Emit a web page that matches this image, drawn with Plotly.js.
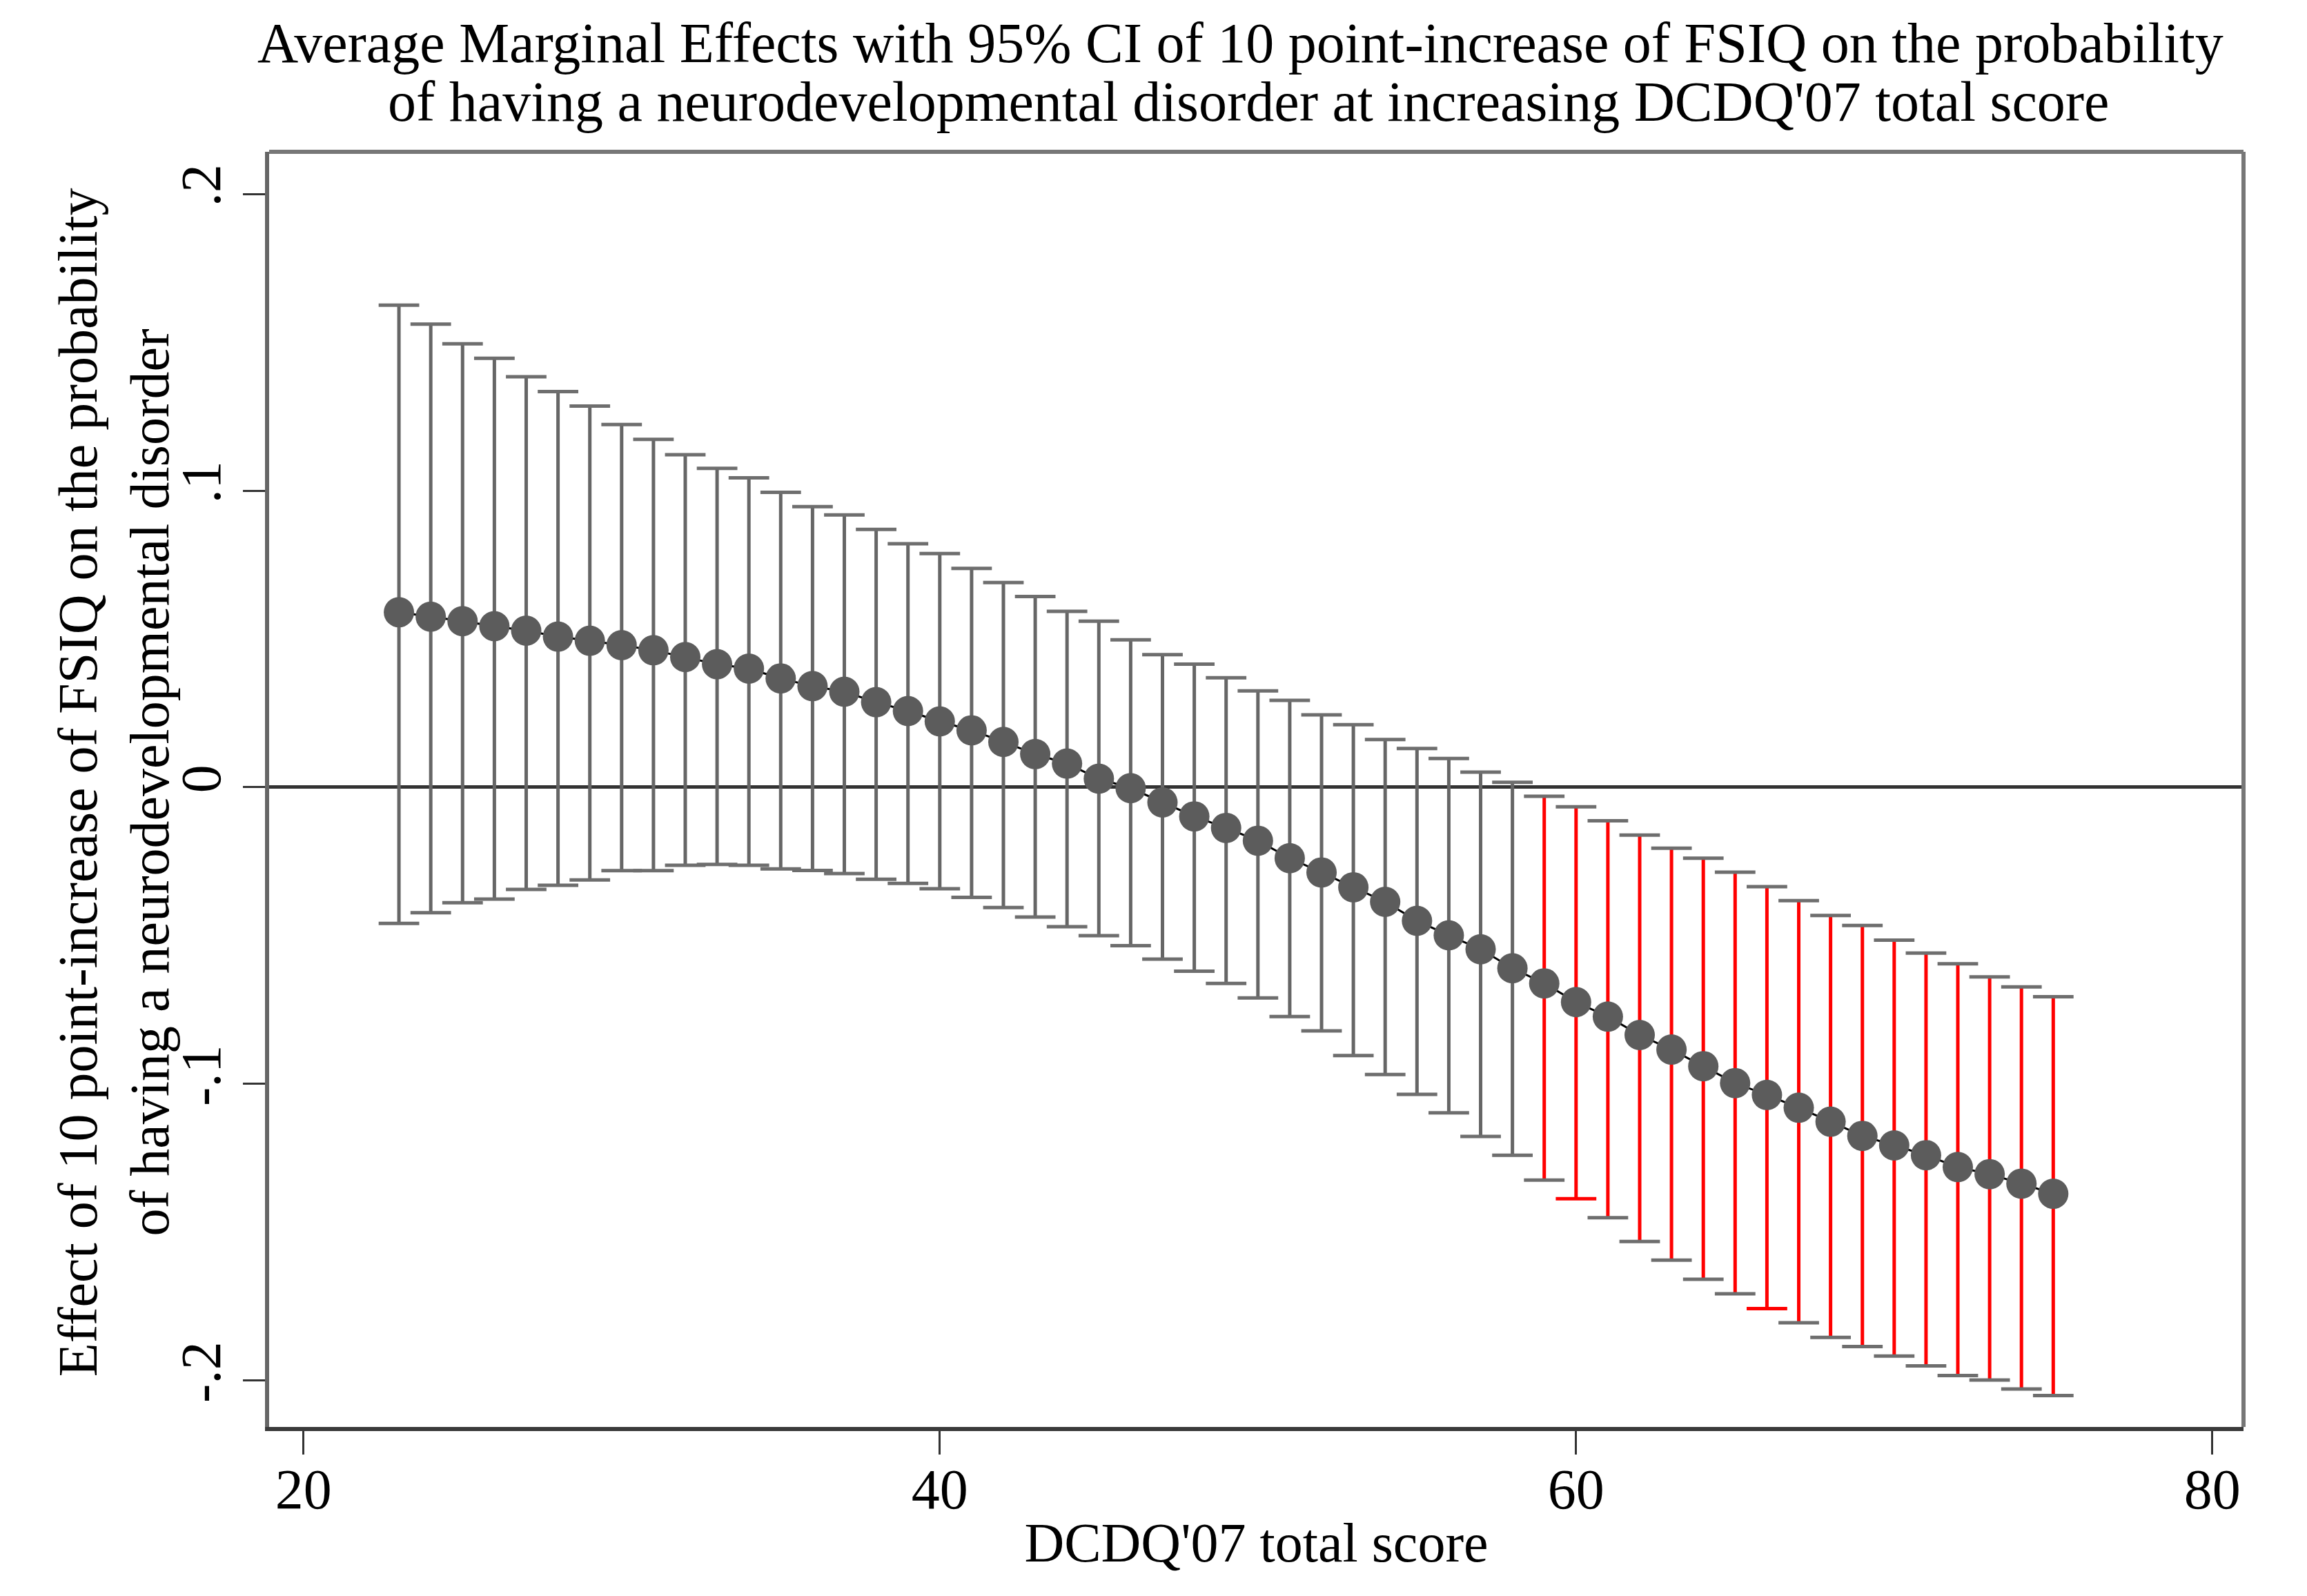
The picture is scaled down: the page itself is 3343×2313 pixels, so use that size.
<!DOCTYPE html>
<html>
<head>
<meta charset="utf-8">
<script src="https://cdn.plot.ly/plotly-3.0.1.min.js"></script>
<style>html,body{margin:0;padding:0;background:#fff;}#chart{width:3343px;height:2313px;}</style>
</head>
<body>
<div id="chart"></div>
<script>
// DCDQ'07 total score values
const dcdq = [23,24,25,26,27,28,29,30,31,32,33,34,35,36,37,38,39,40,41,42,43,44,45,46,47,48,49,
  50,51,52,53,54,55,56,57,58,59,60,61,62,63,64,65,66,67,68,69,70,71,72,73,74,75];
// Average marginal effect (point estimate)
const ame = [0.0590,0.0575,0.0560,0.0543,0.0528,0.0508,0.0494,0.0479,0.0462,0.0439,0.0415,0.0400,0.0367,0.0341,
  0.0322,0.0287,0.0257,0.0222,0.0192,0.0153,0.0112,0.0080,0.0029,-0.0003,-0.0051,-0.0098,-0.0137,
  -0.0180,-0.0239,-0.0287,-0.0337,-0.0386,-0.0450,-0.0499,-0.0546,-0.0610,-0.0661,-0.0724,-0.0773,-0.0835,
  -0.0884,-0.0940,-0.0997,-0.1037,-0.1080,-0.1127,-0.1175,-0.1207,-0.1240,-0.1280,-0.1304,-0.1336,-0.1370];
// Upper 95% CI
const ciUpper = [0.1625,0.1561,0.1495,0.1446,0.1384,0.1334,0.1285,0.1223,0.1173,0.1121,0.1075,0.1043,0.0994,0.0946,
  0.0918,0.0869,0.0821,0.0788,0.0738,0.0690,0.0643,0.0593,0.0560,0.0497,0.0447,0.0415,0.0369,
  0.0325,0.0293,0.0244,0.0211,0.0161,0.0131,0.0097,0.0051,0.0017,-0.0030,-0.0066,-0.0113,-0.0161,
  -0.0205,-0.0239,-0.0286,-0.0335,-0.0382,-0.0432,-0.0466,-0.0515,-0.0559,-0.0595,-0.0639,-0.0673,-0.0706];
// Lower 95% CI
const ciLower = [-0.0459,-0.0423,-0.0389,-0.0377,-0.0344,-0.0330,-0.0312,-0.0281,-0.0281,-0.0263,-0.0260,-0.0263,-0.0275,-0.0280,
  -0.0291,-0.0310,-0.0324,-0.0342,-0.0371,-0.0405,-0.0437,-0.0470,-0.0500,-0.0534,-0.0579,-0.0620,-0.0661,
  -0.0710,-0.0773,-0.0821,-0.0904,-0.0968,-0.1035,-0.1097,-0.1177,-0.1240,-0.1324,-0.1387,-0.1451,-0.1531,
  -0.1594,-0.1658,-0.1707,-0.1757,-0.1805,-0.1854,-0.1885,-0.1917,-0.1950,-0.1983,-0.1998,-0.2028,-0.2050];
// lower caps that appear drawn in red in the original
const redLowerCaps = [60, 66];
// tick labels
const xTickVals = [20,40,60,80];
const xTickText = ['20','40','60','80'];
const yTickVals = [0.2,0.1,0,-0.1,-0.2];
const yTickText = ['.2','.1','0','-.1','-.2'];
// texts
const titleLines = ["Average Marginal Effects with 95% CI of 10 point-increase of FSIQ on the probability",
                    "of having a neurodevelopmental disorder at increasing DCDQ'07 total score"];
const yTitle = 'Effect of 10 point-increase of FSIQ on the probability<br>of having a neurodevelopmental disorder';
const xTitle = "DCDQ'07 total score";

const GREY = '#666666', CAP = '#6e6e6e', RED = '#ff0000', DOT = '#5c5c5c';
const FONT = 'Liberation Serif, Times New Roman, serif';

function segments(filterFn) {
  const xs = [], ys = [];
  dcdq.forEach((x, i) => {
    if (!filterFn(i)) return;
    xs.push(x, x, null);
    ys.push(ciLower[i], ciUpper[i], null);
  });
  return {xs, ys};
}
const sig = i => ciUpper[i] < 0 || ciLower[i] > 0;
const gSeg = segments(i => !sig(i));
const rSeg = segments(i => sig(i));

const capX = dcdq.concat(dcdq);
const capY = ciUpper.concat(ciLower);
const capC = dcdq.map(() => CAP).concat(dcdq.map(x => redLowerCaps.includes(x) ? RED : CAP));

const traces = [
  {x: gSeg.xs, y: gSeg.ys, type: 'scatter', mode: 'lines', line: {color: GREY, width: 5}, hoverinfo: 'skip'},
  {x: rSeg.xs, y: rSeg.ys, type: 'scatter', mode: 'lines', line: {color: RED, width: 5}, hoverinfo: 'skip'},
  {x: capX, y: capY, type: 'scatter', mode: 'markers',
   marker: {symbol: 'line-ew', size: 42, color: capC, line: {color: capC, width: 5}}, hoverinfo: 'skip'},
  {x: dcdq, y: ame, type: 'scatter', mode: 'lines+markers',
   line: {color: '#000000', width: 3},
   marker: {symbol: 'circle', size: 44, color: DOT, line: {width: 0}}}
];

const layout = {
  width: 3343, height: 2313,
  margin: {l: 390, r: 92, t: 220, b: 245, pad: 0},
  paper_bgcolor: '#ffffff', plot_bgcolor: '#ffffff',
  showlegend: false,
  font: {family: FONT, color: '#000000', size: 80},
  xaxis: {
    range: [18.92, 80.98], autorange: false,
    tickvals: xTickVals, ticktext: xTickText,
    ticks: 'outside', ticklen: 34, tickwidth: 3, tickcolor: '#333333',
    ticklabelstandoff: -20,
    showline: true, linecolor: '#3a3a3a', linewidth: 6,
    showgrid: false, zeroline: false,
    tickfont: {family: FONT, size: 82, color: '#000000'},
    title: {text: xTitle, font: {family: FONT, size: 80, color: '#000000'}, standoff: 6}
  },
  yaxis: {
    range: [-0.2156, 0.2142], autorange: false,
    tickvals: yTickVals, ticktext: yTickText,
    ticks: 'outside', ticklen: 32, tickwidth: 3, tickcolor: '#333333',
    tickangle: -90,
    showline: true, linecolor: '#666666', linewidth: 6,
    showgrid: false,
    zeroline: true, zerolinecolor: '#333333', zerolinewidth: 5,
    tickfont: {family: FONT, size: 82, color: '#000000'}
  },
  annotations: [
    {text: titleLines[0], xref: 'paper', yref: 'paper', x: 0.492, y: 1.085, xanchor: 'center', yanchor: 'middle',
     showarrow: false, font: {family: FONT, size: 82, color: '#000000'}},
    {text: titleLines[1], xref: 'paper', yref: 'paper', x: 0.496, y: 1.039, xanchor: 'center', yanchor: 'middle',
     showarrow: false, font: {family: FONT, size: 82, color: '#000000'}},
    {text: yTitle, xref: 'paper', yref: 'paper', x: -0.0786, y: 0.5054, xanchor: 'center', yanchor: 'middle',
     textangle: -90, showarrow: false, font: {family: FONT, size: 80, color: '#000000'}}
  ],
  shapes: [
    {type: 'line', xref: 'paper', yref: 'paper', x0: 0, x1: 1, y0: 1, y1: 1, line: {color: '#777777', width: 6}},
    {type: 'line', xref: 'paper', yref: 'paper', x0: 1, x1: 1, y0: 0, y1: 1, line: {color: '#777777', width: 6}}
  ]
};

Plotly.newPlot('chart', traces, layout, {staticPlot: true, displayModeBar: false});
</script>
</body>
</html>
